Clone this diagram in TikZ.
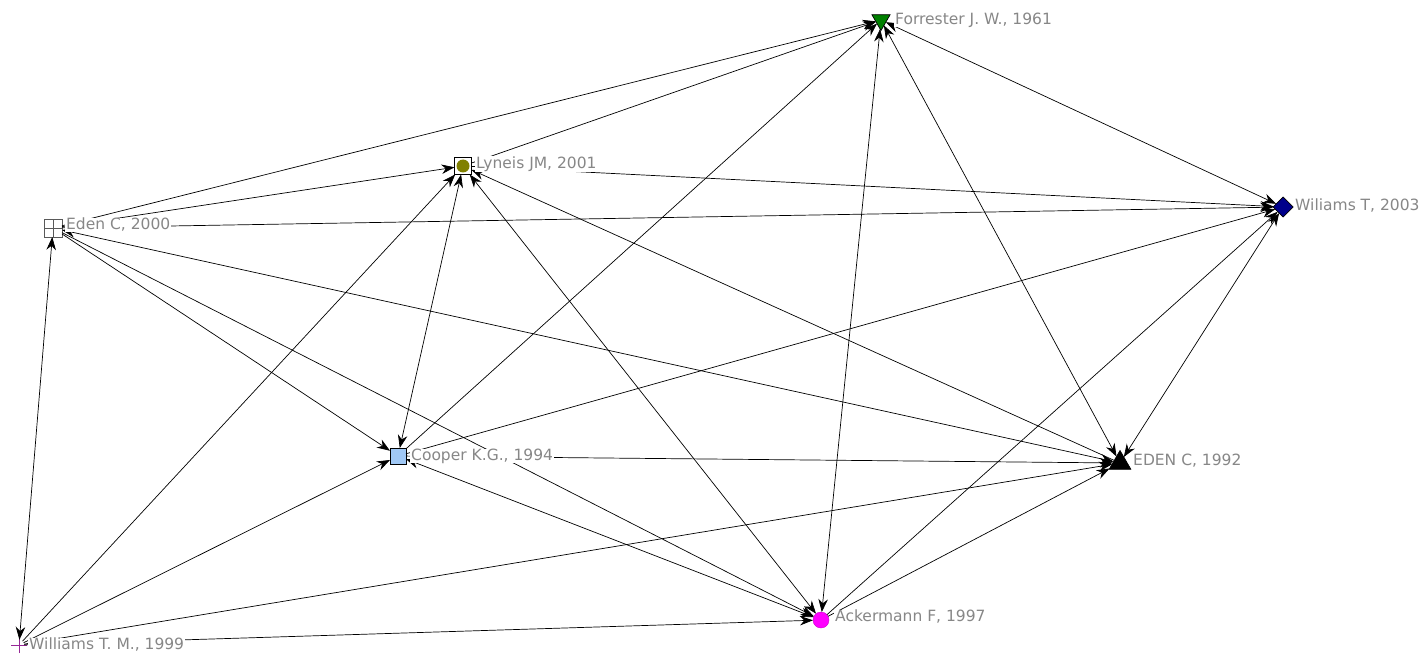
\documentclass[tikz,border=0pt]{standalone}
\usepackage{fontspec}
\setmainfont{DejaVu Sans}
\usetikzlibrary{shapes.geometric,arrows.meta}
\definecolor{fgreen}{RGB}{0,128,0}
\definecolor{olivec}{RGB}{128,128,0}
\definecolor{navyc}{RGB}{0,0,139}
\definecolor{cblue}{RGB}{160,200,245}
\definecolor{magc}{RGB}{255,0,255}
\definecolor{purp}{RGB}{150,40,150}
\definecolor{lbl}{RGB}{135,135,135}
\tikzset{
  nd/.style={inner sep=0pt, outer sep=0pt, draw=black, line width=0.7pt},
  lab/.style={anchor=west, text=lbl, fill=white, inner xsep=1pt, inner ysep=0pt, font=\fontsize{15.5}{17}\selectfont},
  e/.style={-{Stealth[length=13pt,width=9.5pt]}, line width=0.7pt},
  b/.style={{Stealth[length=13pt,width=9.5pt]}-{Stealth[length=13pt,width=9.5pt]}, line width=0.7pt}
}
\begin{document}
\begin{tikzpicture}[x=1pt,y=-1pt]
\useasboundingbox (0,0) rectangle (1420,655);
% nodes
\node[nd, regular polygon, regular polygon sides=3, shape border rotate=180, fill=fgreen, minimum size=21pt] (F) at (881,20) {};
\node[nd, rectangle, minimum size=17pt, path picture={\fill[olivec] (path picture bounding box.center) circle (6.5pt);}] (L) at (463,166) {};
\node[nd, diamond, fill=navyc, minimum width=20pt, minimum height=20pt] (W3) at (1283,207) {};
\node[nd, rectangle, draw=gray!70!black, minimum size=18pt, path picture={\draw[gray!70!black, line width=0.7pt] (path picture bounding box.north) -- (path picture bounding box.south) (path picture bounding box.west) -- (path picture bounding box.east);}] (E0) at (53,228) {};
\node[nd, rectangle, fill=cblue, minimum size=16pt] (C) at (398,456) {};
\node[nd, regular polygon, regular polygon sides=3, fill=black, minimum size=25pt] (E92) at (1120,463) {};
\node[nd, circle, draw=magc!80!black, line width=0.4pt, fill=magc, minimum size=16pt] (A) at (821,620) {};
\node[circle, inner sep=0pt, minimum size=10pt] (WM) at (19,645) {};
\draw[purp, line width=1pt] ([xshift=-8pt]WM.center) -- ([xshift=8pt]WM.center) ([yshift=-8pt]WM.center) -- ([yshift=8pt]WM.center);
% edges
\draw[e] (E0) -- (F);
\draw[e] (L) -- (F);
\draw[e] (C) -- (F);
\draw[b] (A) -- (F);
\draw[b] (E92) -- (F);
\draw[b] (W3) -- (F);
\draw[e] (E0) -- (L);
\draw[e] (E0) -- (W3);
\draw[b] (E92) -- (E0);
\draw[e] (E0) -- (C);
\draw[e] (E0) -- (A);
\draw[b] (WM) -- (E0);
\draw[e] (L) -- (W3);
\draw[e] (WM) -- (L);
\draw[b] (C) -- (L);
\draw[b] (A) -- (L);
\draw[e] (E92) -- (L);
\draw[e] (C) -- (W3);
\draw[b] (E92) -- (W3);
\draw[e] (A) -- (W3);
\draw[e] (C) -- (E92);
\draw[e] (WM) -- (E92);
\draw[e] (A) -- (E92);
\draw[e] (WM) -- (C);
\draw[b] (A) -- (C);
\draw[e] (WM) -- (A);
% labels
\node[lab] (lF) at (894,20) {Forrester J. W., 1961};
\node[lab] (lL) at (475,164) {Lyneis JM, 2001};
\node[lab] (lW3) at (1294,206) {Wiliams T, 2003};
\node[lab] (lE0) at (65,225) {Eden C, 2000};
\node[lab] (lC) at (410,456) {Cooper K.G., 1994};
\node[lab] (lE92) at (1132,461) {EDEN C, 1992};
\node[lab] (lA) at (834,617) {Ackermann F, 1997};
\node[lab] (lWM) at (28,645) {Williams T. M., 1999};
\end{tikzpicture}
\end{document}
